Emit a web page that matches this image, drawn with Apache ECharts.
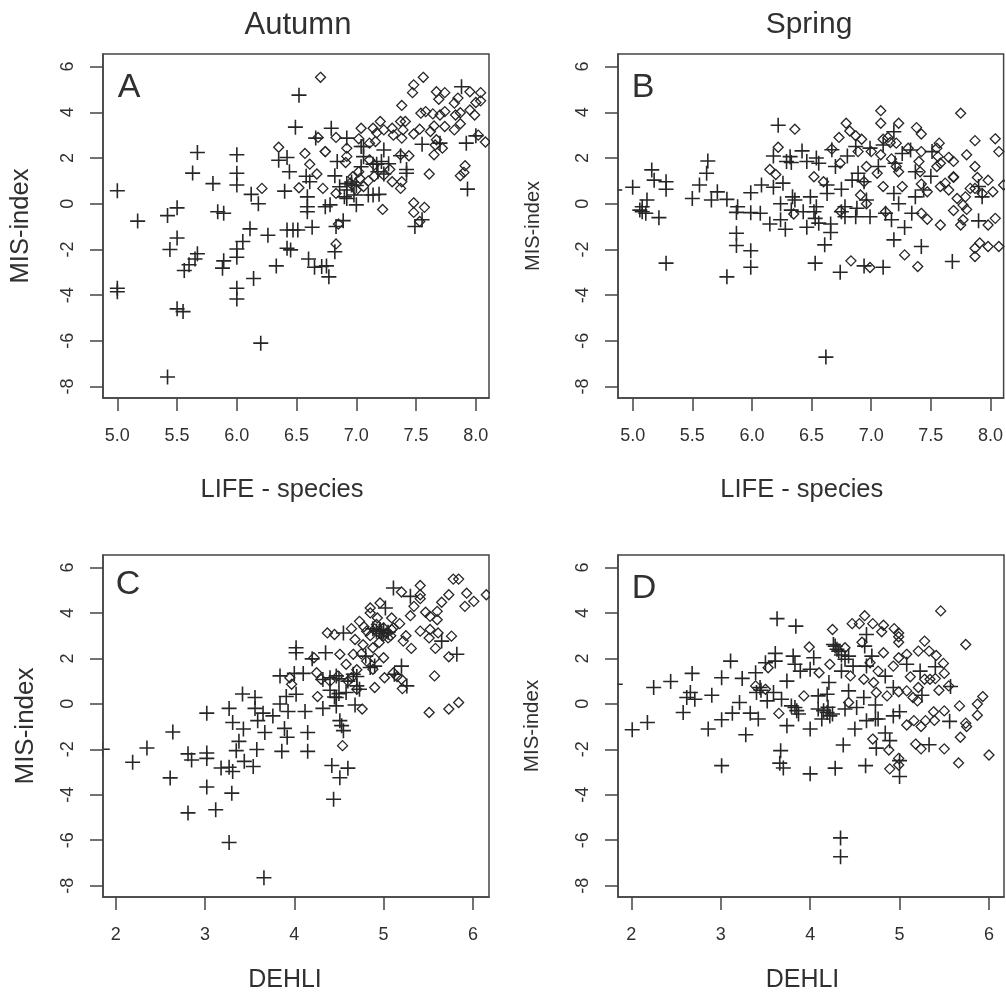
<!DOCTYPE html>
<html><head><meta charset="utf-8">
<style>html,body{margin:0;padding:0;background:#fff}#c{width:1006px;height:994px}</style>
<script src="https://cdn.jsdelivr.net/npm/echarts@6/dist/echarts.min.js"></script>
</head><body><div id="c"></div>
<script>
const lifeTicks=[5,5.5,6,6.5,7,7.5,8];
const dehliTicks=[2,3,4,5,6];
const misTicks=[-8,-6,-4,-2,0,2,4,6];

const aPlus=[[5.0,0.57],[5.17,-0.76],[5.0,-3.7],[5.0,-3.85],[5.42,-0.52],[5.5,-0.18],[5.5,-1.5],[5.44,-2.0],[5.67,2.24],[5.63,1.34],[5.8,0.88],[6.0,2.14],[6.0,1.33],[6.0,0.82],[5.84,-0.35],[5.89,-0.42],[6.12,0.41],[6.18,0.0],[6.11,-1.1],[6.26,-1.38],[6.05,-1.65],[6.0,-1.98],[6.0,-2.34],[5.67,-2.19],[5.65,-2.42],[5.6,-2.67],[5.56,-2.92],[5.89,-2.5],[5.88,-2.82],[6.33,-2.72],[6.14,-3.27],[6.0,-3.7],[6.0,-4.17],[5.5,-4.6],[5.55,-4.72],[6.2,-6.1],[5.42,-7.58],[6.52,4.75],[6.49,3.35],[6.79,3.3],[6.66,2.87],[6.92,2.87],[6.35,1.9],[6.42,2.02],[6.44,1.4],[6.4,0.55],[6.58,1.2],[6.61,0.96],[6.84,1.85],[6.82,1.22],[6.86,0.74],[6.92,0.88],[6.96,0.82],[7.04,2.5],[7.06,2.06],[7.23,2.35],[7.21,1.85],[7.18,1.4],[7.37,2.1],[7.42,1.33],[7.19,0.41],[7.0,-0.05],[6.92,0.23],[6.78,-0.05],[6.74,-0.13],[6.59,0.3],[6.59,-0.13],[6.59,-0.35],[6.63,-1.03],[6.83,-1.0],[6.89,-0.74],[6.47,-1.15],[6.42,-1.15],[6.51,-1.15],[6.42,-1.95],[6.45,-2.02],[6.82,-2.1],[6.6,-2.42],[6.65,-2.78],[6.71,-2.75],[6.75,-2.72],[6.77,-3.2],[7.49,-1.0],[7.55,-0.7],[7.55,2.6],[7.7,2.65],[7.92,2.65],[8.0,2.97],[7.88,5.12],[7.93,0.64],[7.06,2.5],[7.04,1.62],[7.14,1.73],[7.17,1.73],[7.23,1.3],[7.27,1.75],[6.92,0.6],[6.96,0.95],[7.0,0.8],[6.9,0.3],[6.98,0.38],[7.1,0.38],[7.14,0.38],[7.42,1.5]];
const aDiamond=[[6.7,5.53],[7.56,5.53],[7.48,5.2],[7.47,4.86],[7.67,4.9],[7.74,4.86],[7.69,4.57],[7.95,4.9],[8.04,4.86],[8.04,4.5],[8.0,4.43],[7.85,4.62],[7.82,4.4],[7.38,4.3],[7.54,3.96],[7.58,4.03],[7.64,3.93],[7.7,3.88],[7.74,4.03],[7.83,3.88],[7.87,3.98],[7.95,4.1],[7.99,3.88],[7.87,3.5],[7.82,3.23],[7.74,3.38],[7.65,3.4],[7.62,3.16],[7.53,3.26],[7.48,3.05],[7.41,3.6],[7.37,3.6],[7.39,3.23],[7.38,2.87],[7.2,3.6],[7.14,3.3],[7.17,3.1],[7.23,3.23],[7.3,3.3],[7.31,3.0],[7.04,3.3],[7.02,2.84],[7.11,2.65],[7.16,2.72],[6.83,2.9],[6.68,2.9],[6.92,2.43],[6.92,2.07],[6.91,1.8],[6.35,2.47],[6.57,2.2],[6.74,2.28],[6.74,2.28],[6.61,1.73],[6.67,1.3],[6.21,0.67],[6.52,0.7],[6.72,0.67],[6.83,0.45],[7.06,0.75],[6.97,1.18],[7.03,1.1],[7.11,1.92],[7.15,1.7],[7.28,1.5],[7.23,1.25],[7.3,0.96],[7.38,0.96],[7.37,0.67],[7.44,2.1],[7.37,2.14],[7.61,1.3],[7.65,2.14],[7.72,2.43],[7.67,2.8],[7.66,2.57],[7.91,1.66],[7.9,1.37],[7.87,1.22],[8.08,2.7],[8.02,3.0],[7.22,-0.25],[7.48,0.04],[7.48,-0.38],[7.57,-0.16],[7.53,-0.78],[6.85,-0.89],[6.83,-1.76],[6.95,0.9],[7.0,0.6],[7.02,1.4],[7.15,1.2],[7.1,1.0]];

const bPlus=[[4.85,0.6],[5.0,0.72],[5.16,1.48],[5.18,1.03],[5.28,0.96],[5.28,0.63],[5.12,0.16],[5.08,-0.13],[5.06,-0.28],[5.11,-0.42],[5.08,-0.35],[5.22,-0.61],[5.28,-2.6],[5.5,0.23],[5.56,0.82],[5.63,1.87],[5.62,1.33],[5.66,0.16],[5.71,0.52],[5.79,0.19],[5.88,-0.13],[5.87,-0.38],[5.99,0.48],[5.99,-0.39],[6.08,0.82],[6.07,-0.42],[6.15,-0.89],[6.24,-0.7],[6.28,-1.12],[5.87,-1.29],[5.87,-1.83],[5.99,-2.06],[5.99,-2.78],[5.79,-3.2],[6.22,3.43],[6.42,2.31],[6.18,2.09],[6.32,2.06],[6.29,1.85],[6.33,1.8],[6.46,1.85],[6.54,2.0],[6.56,1.77],[6.67,2.36],[6.7,1.63],[6.8,2.09],[6.87,2.5],[6.18,0.72],[6.26,0.9],[6.24,0.0],[6.34,0.3],[6.36,0.16],[6.49,0.3],[6.33,-0.28],[6.43,-0.35],[6.54,-0.13],[6.52,-0.35],[6.53,-0.64],[6.46,-1.03],[6.56,-0.85],[6.66,-0.89],[6.66,-1.26],[6.61,-1.8],[6.53,-2.6],[6.74,-3.0],[6.94,-2.72],[7.1,-2.78],[6.62,-6.71],[6.63,0.82],[6.63,0.45],[6.75,0.63],[6.78,-0.13],[6.75,-0.35],[6.88,-0.2],[6.87,-0.57],[6.78,-0.57],[6.99,-0.57],[6.96,0.16],[6.84,1.03],[6.89,1.33],[6.94,0.96],[6.99,2.43],[7.06,1.63],[7.1,2.57],[7.19,3.15],[7.2,1.77],[7.19,0.45],[7.23,0.0],[7.17,-0.7],[7.12,-0.42],[7.28,-1.04],[7.19,-1.58],[7.42,-1.87],[7.68,-2.53],[7.34,-0.42],[7.37,0.3],[7.44,0.6],[7.5,1.2],[7.37,1.4],[7.33,2.35],[7.51,2.28],[7.26,2.2],[7.9,-0.75],[7.9,0.75],[7.93,0.3]];
const bDiamond=[[7.08,4.07],[7.75,3.96],[6.79,3.52],[7.08,3.52],[7.23,3.52],[7.38,3.33],[7.42,3.05],[6.82,3.18],[6.87,2.97],[6.92,2.82],[6.73,2.9],[6.36,3.26],[6.22,2.47],[7.87,2.76],[8.04,2.84],[8.07,2.28],[7.8,2.14],[7.1,2.82],[7.14,2.9],[7.16,2.68],[7.21,2.65],[7.31,2.43],[7.42,2.28],[7.57,2.65],[7.55,2.43],[7.56,2.06],[7.58,1.77],[7.55,1.63],[7.65,2.03],[7.69,1.85],[7.87,1.63],[7.4,1.85],[7.08,2.14],[7.17,1.96],[7.0,2.28],[6.89,2.28],[6.74,1.77],[6.67,2.39],[6.15,1.5],[6.2,1.28],[6.52,1.18],[6.6,0.96],[6.96,1.63],[7.05,1.33],[7.21,1.63],[7.23,1.4],[7.41,1.4],[7.42,0.86],[7.26,0.75],[7.1,0.75],[6.94,0.96],[6.91,0.38],[6.96,0.0],[7.69,1.18],[7.69,1.15],[7.58,0.75],[7.62,0.9],[7.89,1.15],[7.98,1.03],[7.83,0.67],[8.02,0.52],[7.87,0.67],[7.93,0.45],[7.79,0.3],[7.77,-0.06],[7.8,-0.25],[7.69,-0.3],[7.65,0.6],[7.72,0.23],[7.47,0.52],[7.42,-0.42],[7.47,-0.68],[7.58,-0.93],[7.77,-0.7],[7.75,-0.93],[7.98,-0.93],[8.04,-0.64],[7.91,-1.72],[7.87,-1.95],[7.87,-2.31],[7.98,-1.87],[8.07,-1.87],[7.28,-2.24],[7.39,-2.75],[6.83,-2.5],[6.99,-2.79],[7.12,-0.35],[6.74,-0.32],[6.35,-0.45],[8.11,0.82]];

const cPlus=[[1.85,-2.0],[2.19,-2.57],[2.35,-1.94],[2.64,-1.24],[2.61,-3.26],[2.81,-2.2],[2.85,-2.47],[2.81,-4.8],[3.02,-2.16],[3.02,-2.4],[3.02,-3.66],[3.02,-0.41],[3.12,-4.66],[3.18,-2.82],[3.27,-2.79],[3.31,-2.98],[3.3,-3.93],[3.27,-6.1],[3.66,-7.65],[3.27,-0.2],[3.31,-0.82],[3.43,-1.11],[3.42,0.43],[3.56,0.28],[3.56,-0.2],[3.65,-0.41],[3.59,-0.74],[3.67,-1.26],[3.76,-0.53],[3.38,-1.65],[3.35,-2.06],[3.58,-2.01],[3.44,-2.53],[3.54,-2.76],[3.86,-2.09],[3.89,-1.08],[3.92,-1.47],[4.15,-1.26],[4.15,-2.09],[4.12,-0.34],[3.84,-0.01],[3.93,-0.34],[3.91,0.32],[4.02,0.42],[3.84,1.23],[4.0,1.34],[4.1,1.34],[4.02,2.47],[4.02,2.25],[4.2,1.98],[4.35,2.25],[4.32,1.07],[4.32,-0.2],[4.47,0.28],[4.47,-0.09],[4.68,-0.05],[4.51,-0.74],[4.53,-0.96],[4.55,-1.18],[4.42,-2.71],[4.6,-2.83],[4.51,-3.25],[4.44,-4.2],[4.4,1.15],[4.47,1.23],[4.55,3.12],[4.66,1.3],[4.7,0.79],[4.58,0.5],[4.8,2.1],[4.9,1.66],[4.96,3.27],[5.02,4.22],[5.11,5.1],[5.3,4.73],[5.2,1.66],[5.26,0.79],[5.12,1.3],[5.65,2.76],[5.82,2.18],[4.73,0.64],[4.92,3.2],[4.98,3.1],[4.88,3.3],[4.85,1.6],[4.6,1.0],[4.5,0.45],[4.95,3.2],[5.0,3.25],[5.05,3.15],[4.5,1.1],[4.4,0.6],[4.45,0.3],[4.7,1.2]];
const cDiamond=[[5.78,5.49],[5.84,5.49],[5.41,5.21],[5.41,4.8],[5.41,4.63],[5.2,4.92],[5.73,4.8],[5.93,4.87],[6.15,4.8],[6.01,4.51],[5.91,4.29],[5.65,4.47],[5.6,4.07],[5.47,4.03],[5.52,3.85],[5.6,3.7],[5.34,4.29],[5.3,3.88],[4.96,4.44],[4.85,4.22],[4.85,4.0],[4.73,3.63],[4.78,3.39],[4.93,3.78],[4.92,3.49],[5.09,3.78],[5.18,3.53],[5.11,3.34],[5.03,3.12],[5.05,2.9],[4.64,3.31],[4.45,3.05],[4.37,3.12],[4.68,2.83],[4.77,2.6],[4.88,2.47],[5.25,3.0],[5.22,2.76],[5.31,2.44],[5.41,3.2],[5.52,3.27],[5.61,3.12],[5.51,2.9],[5.76,2.98],[5.58,2.44],[5.73,2.07],[5.57,1.23],[5.51,-0.38],[5.73,-0.23],[5.84,0.06],[4.54,-1.84],[4.76,-0.23],[4.26,0.32],[4.22,2.03],[4.51,2.18],[4.66,2.18],[5.0,2.03],[4.81,1.88],[4.58,1.74],[4.25,1.37],[4.3,1.08],[4.49,1.23],[4.64,1.15],[4.9,0.72],[5.01,1.15],[5.11,1.37],[5.2,1.08],[5.21,0.67],[4.88,1.52],[3.95,1.15],[3.97,0.86],[4.7,0.64],[4.81,3.2],[5.0,3.34],[5.09,3.27],[4.9,3.3],[4.96,3.1],[4.85,3.0],[5.08,3.0],[4.95,2.7],[4.6,1.0],[4.7,1.5],[4.75,2.2],[4.9,2.0],[5.15,1.2],[4.4,1.0],[5.0,3.0]];

const dPlus=[[1.82,0.86],[2.01,-1.14],[2.18,-0.82],[2.25,0.72],[2.44,0.98],[2.58,-0.38],[2.68,1.34],[2.66,0.5],[2.62,0.28],[2.71,0.2],[2.9,0.38],[2.86,-1.11],[3.01,1.15],[3.11,1.88],[3.01,-0.7],[3.13,-0.41],[3.21,0.06],[3.24,1.12],[3.39,1.37],[3.33,-0.41],[3.42,-0.67],[3.28,-1.36],[3.01,-2.72],[3.44,0.72],[3.4,0.5],[3.52,0.13],[3.59,0.5],[3.5,1.81],[3.61,2.22],[3.61,1.88],[3.63,3.75],[3.84,3.42],[3.74,1.0],[3.81,2.1],[3.83,1.74],[3.89,1.44],[4.0,1.52],[4.04,2.03],[3.68,0.2],[3.79,-0.09],[3.83,-0.16],[3.87,-0.45],[3.74,-0.96],[4.0,-1.11],[3.67,-2.06],[3.66,-2.61],[3.7,-2.82],[4.0,-3.08],[4.28,-2.83],[4.62,-2.72],[4.37,-1.81],[4.5,-1.11],[4.09,0.35],[4.19,0.42],[4.21,0.94],[4.09,-0.23],[4.19,-0.38],[4.13,-0.67],[4.22,-0.53],[4.39,-0.23],[4.52,-0.16],[4.43,0.57],[4.6,0.28],[4.28,2.54],[4.26,2.61],[4.32,2.32],[4.43,2.1],[4.39,1.96],[4.35,1.44],[4.63,3.05],[4.61,2.54],[4.63,1.66],[4.69,2.1],[4.84,1.22],[4.93,0.72],[4.73,-0.05],[4.63,-0.74],[4.73,-0.67],[4.76,-0.67],[4.93,-0.53],[5.0,-0.35],[4.84,-1.28],[4.89,-1.62],[4.74,-1.95],[5.0,-2.5],[5.0,-3.2],[4.34,-5.9],[4.34,-6.73],[5.23,1.44],[5.08,1.74],[5.4,1.63],[5.25,0.38],[5.57,0.76],[5.56,-0.77],[5.33,-1.8],[4.48,1.66],[4.15,-0.3],[4.2,-0.15],[4.25,-0.45],[4.3,2.4],[4.35,2.15],[3.45,0.6],[3.85,-0.3]];
const dDiamond=[[5.46,4.09],[4.61,3.88],[4.47,3.53],[4.55,3.53],[4.7,3.53],[4.82,3.46],[4.8,3.17],[4.94,3.31],[4.99,3.12],[4.99,2.95],[4.99,2.71],[4.25,3.27],[4.58,2.71],[5.28,2.76],[5.74,2.61],[3.99,2.5],[4.82,2.25],[5.08,2.18],[5.21,2.32],[5.33,2.32],[5.41,2.13],[4.99,2.03],[4.93,1.66],[5.49,1.78],[5.5,1.34],[5.4,1.11],[5.34,1.08],[5.28,1.08],[5.12,1.19],[5.21,0.72],[5.08,0.57],[5.44,0.6],[5.15,0.28],[5.2,0.13],[5.55,0.79],[5.93,0.32],[5.87,-0.01],[5.67,-0.09],[5.87,-0.5],[5.5,-0.31],[5.38,-0.35],[5.39,-0.73],[5.29,-0.74],[5.24,-1.0],[5.16,-0.74],[5.08,-0.93],[5.74,-0.85],[5.75,-1.0],[5.68,-1.47],[5.5,-1.98],[5.18,-1.77],[5.24,-1.98],[5.66,-2.6],[6.0,-2.25],[4.7,-1.55],[4.88,-2.03],[4.99,-2.4],[4.99,-2.69],[4.89,-2.86],[3.65,-0.42],[3.53,1.59],[3.93,0.35],[4.1,1.37],[4.22,1.74],[4.39,2.47],[4.45,1.23],[4.6,1.08],[4.71,0.94],[4.86,0.35],[4.99,0.53],[4.74,0.5],[4.43,0.06],[3.39,0.79],[3.5,0.64],[4.67,1.81],[4.76,1.44]];

const INK='#262626', FRAME='#444', TXT='#303030';
const FONT='"Liberation Sans",Arial,sans-serif';
const panels=[
 {id:'A',left:103,top:54,xr:[4.88,8.11],ticks:lifeTicks,digits:1,xName:'LIFE - species',xGap:79,xPad:28,xFont:25.5,yFont:25.5,yGap:69,letterX:21,letterY:12,plus:aPlus,dia:aDiamond},
 {id:'B',left:618,top:54,xr:[4.877,8.11],ticks:lifeTicks,digits:1,xName:'LIFE - species',xGap:79,xPad:18,xFont:25.5,yFont:20,yGap:75,letterX:20,letterY:12,plus:bPlus,dia:bDiamond},
 {id:'C',left:103,top:555,xr:[1.858,6.18],ticks:dehliTicks,digits:0,xName:'DEHLI',xGap:71,xPad:22,xFont:25,yFont:26,yGap:64,letterX:20,letterY:8,plus:cPlus,dia:cDiamond},
 {id:'D',left:618,top:555,xr:[1.851,6.168],ticks:dehliTicks,digits:0,xName:'DEHLI',xGap:71,xPad:17,xFont:25,yFont:20.5,yGap:75,letterX:21,letterY:12,plus:dPlus,dia:dDiamond}
];
const W=386,H=344,Y_MIN=-8.5,Y_MAX=6.55;
const option={animation:false,backgroundColor:'#fff',
 title:[{text:'Autumn',left:293,top:5,textAlign:'center',textStyle:{fontFamily:FONT,fontWeight:'normal',fontSize:31,color:TXT}},
        {text:'Spring',left:804,top:5,textAlign:'center',textStyle:{fontFamily:FONT,fontWeight:'normal',fontSize:30,color:TXT}}]
   .concat(panels.map(p=>({text:p.id,left:p.left+p.letterX,top:p.top+p.letterY,textAlign:'center',textStyle:{fontFamily:FONT,fontWeight:'normal',fontSize:34,color:TXT}}))),
 grid:[],xAxis:[],yAxis:[],series:[],graphic:{elements:[]}};
panels.forEach((p,i)=>{
 option.grid.push({left:p.left,top:p.top,width:W,height:H,show:true,borderColor:FRAME,borderWidth:1.5,backgroundColor:'transparent',containLabel:false});
 option.xAxis.push({type:'value',gridIndex:i,min:p.xr[0],max:p.xr[1],z:5,name:p.xName,nameLocation:'middle',nameGap:p.xGap,
   nameTextStyle:{fontFamily:FONT,fontSize:p.xFont,color:TXT,padding:[0,p.xPad,0,0]},
   splitLine:{show:false},axisLine:{show:true,onZero:false,lineStyle:{color:FRAME,width:1.5}},
   axisTick:{show:true,length:13,lineStyle:{color:FRAME,width:1.5},customValues:p.ticks},
   axisLabel:{fontFamily:FONT,fontSize:18,color:TXT,margin:29,customValues:p.ticks,formatter:v=>Number(v).toFixed(p.digits)}});
 option.yAxis.push({type:'value',gridIndex:i,min:Y_MIN,max:Y_MAX,z:5,name:'MIS-index',nameLocation:'middle',nameRotate:90,nameGap:p.yGap,
   nameTextStyle:{fontFamily:FONT,fontSize:p.yFont,color:TXT},
   splitLine:{show:false},axisLine:{show:true,onZero:false,lineStyle:{color:FRAME,width:1.5}},
   axisTick:{show:true,length:13,lineStyle:{color:FRAME,width:1.5},customValues:misTicks},
   axisLabel:{fontFamily:FONT,fontSize:18,color:TXT,margin:26,rotate:90,customValues:misTicks,formatter:v=>String(v)}});
 option.series.push({type:'scatter',name:p.id+' plus',xAxisIndex:i,yAxisIndex:i,data:p.plus,clip:false,silent:true,
   symbol:'path://M10 0V20M0 10H20',symbolSize:15,itemStyle:{color:'transparent',borderColor:INK,borderWidth:1.6,opacity:1},z:2});
 option.series.push({type:'scatter',name:p.id+' diamond',xAxisIndex:i,yAxisIndex:i,data:p.dia,clip:false,silent:true,
   symbol:'diamond',symbolSize:10,itemStyle:{color:'transparent',borderColor:INK,borderWidth:1.3,opacity:1},z:2});
 // white margins hide the part of an edge marker that the plot box clips off
 option.graphic.elements.push({type:'rect',z:3,shape:{x:p.left-14,y:p.top,width:13,height:H},style:{fill:'#fff'},silent:true});
 option.graphic.elements.push({type:'rect',z:3,shape:{x:p.left+W+1,y:p.top,width:13,height:H},style:{fill:'#fff'},silent:true});
});
echarts.init(document.getElementById('c'),null,{renderer:'canvas'}).setOption(option);
</script></body></html>
